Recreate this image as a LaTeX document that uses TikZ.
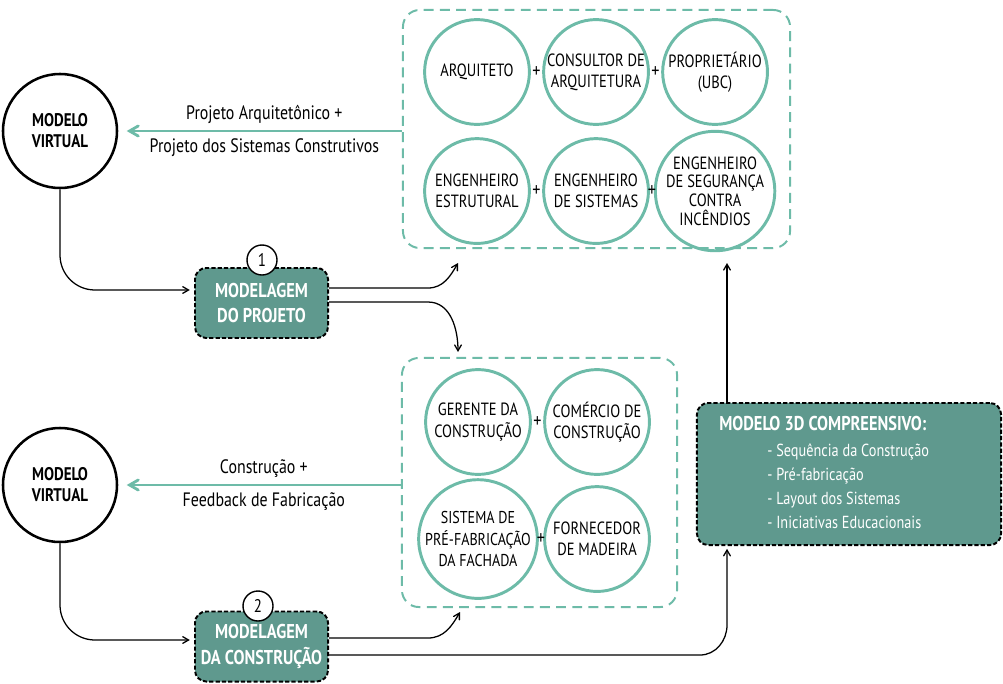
\documentclass[tikz,border=0pt]{standalone}
\usepackage{fontspec}
\setmainfont{PT Sans}[FakeStretch=0.82]
\usetikzlibrary{arrows,positioning}

\definecolor{verde}{HTML}{6DBBA8}
\definecolor{verdeescuro}{HTML}{5F998E}

\begin{document}
\begin{tikzpicture}[x=0.025cm,y=-0.025cm,>=angle 60,line width=0.9pt,node distance=2.975cm]
  \tikzstyle{membro}=[circle,draw=verde,line width=2.1pt,minimum size=2.62cm,inner sep=0pt,align=center,font=\fontsize{12.6}{15}\selectfont]
  \tikzstyle{modelo}=[circle,draw=black,line width=1.8pt,minimum size=2.85cm,inner sep=0pt,align=center,font=\bfseries\fontsize{13}{15}\selectfont]
  \tikzstyle{etapa}=[rectangle,rounded corners=8pt,draw=black,dash pattern=on 3pt off 1.5pt,line width=1.4pt,fill=verdeescuro,text=white,align=center,minimum width=3.325cm,minimum height=1.75cm,font=\bfseries\fontsize{14.2}{18}\selectfont]
  \tikzstyle{numero}=[circle,draw=black,fill=white,line width=1pt,minimum size=0.75cm,inner sep=0pt,font=\fontsize{13}{13}\selectfont]
  \tikzstyle{grupo}=[rectangle,rounded corners=12pt,draw=verde,line width=1.4pt,dash pattern=on 7pt off 4.5pt]
  \tikzstyle{retorno}=[->,draw=verde,line width=2pt]
  \tikzstyle{legenda}=[font=\fontsize{13.8}{16}\selectfont]
  \tikzstyle{mais}=[font=\fontsize{14}{14}\selectfont]

  \useasboundingbox (0,0) rectangle (1003,683);

  % equipe de projeto
  \node[grupo,minimum width=9.675cm,minimum height=5.95cm] (equipe1) at (596.5,129) {};
  \node[membro] (arq)        at (477,72)          {ARQUITETO};
  \node[membro] (consultor)  [right of=arq]       {CONSULTOR DE\\ARQUITETURA};
  \node[membro] (dono)       [right of=consultor] {PROPRIETÁRIO\\(UBC)};
  \node[membro] (estrutural) [below of=arq]       {ENGENHEIRO\\ESTRUTURAL};
  \node[membro] (sistemas)   [right of=estrutural] {ENGENHEIRO\\DE SISTEMAS};
  \node[membro,font=\fontsize{12.6}{13.2}\selectfont] (incendio) [right of=sistemas] {ENGENHEIRO\\DE SEGURANÇA\\CONTRA\\INCÊNDIOS};
  \path (arq) -- node[mais] {+} (consultor)
        (consultor) -- node[mais] {+} (dono)
        (estrutural) -- node[mais] {+} (sistemas)
        (sistemas) -- node[mais] {+} (incendio);

  % equipe de construcao
  \node[grupo,minimum width=6.875cm,minimum height=6.225cm] (equipe2) at (539.5,482.5) {};
  \node[membro] (gerente)    at (478,422)         {GERENTE DA\\CONSTRUÇÃO};
  \node[membro] (comercio)   [right of=gerente]   {COMÉRCIO DE\\CONSTRUÇÃO};
  \node[membro,font=\fontsize{12.2}{15}\selectfont] (fachada) [below of=gerente, node distance=2.925cm] {SISTEMA DE\\PRÉ-FABRICAÇÃO\\DA FACHADA};
  \node[membro] (madeira)    [right of=fachada]   {FORNECEDOR\\DE MADEIRA};
  \path (gerente) -- node[mais] {+} (comercio)
        (fachada) -- node[mais] {+} (madeira);

  % modelos virtuais e etapas
  \node[modelo] (mv1) at (60,131) {MODELO\\VIRTUAL};
  \node[modelo] (mv2) at (60,485) {MODELO\\VIRTUAL};
  \node[etapa] (projeto)    at (261.5,303)   {MODELAGEM\\DO PROJETO};
  \node[etapa] (construcao) at (261.5,646.5) {MODELAGEM\\DA CONSTRUÇÃO};
  \node[numero] (n1) at (262,260) {1};
  \node[numero] (n2) at (258,606) {2};

  % modelo 3D
  \node[etapa,minimum width=7.6cm,minimum height=3.55cm] (modelo3d) at (849,474) {};
  \node[anchor=west,text=white,font=\bfseries\fontsize{14.2}{16}\selectfont] (titulo) at (714,424) {MODELO 3D COMPREENSIVO:};
  \node[anchor=west,text=white,align=left,font=\fontsize{12.4}{17}\selectfont] (itens) at (762,486) {- Sequência da Construção\\- Pré-fabricação\\- Layout dos Sistemas\\- Iniciativas Educacionais};

  \coordinate (entrada1) at (458,263);
  \coordinate (entrada2) at (458,352);
  \coordinate (entrada3) at (460,612);
  \coordinate (base1)    at (727,263);

  % retornos
  \draw[retorno] (equipe1.west |- mv1) -- node[legenda,above=1pt] {Projeto Arquitetônico +}
    node[legenda,below=1pt] {Projeto dos Sistemas Construtivos} ([xshift=6pt]mv1.east);
  \draw[retorno] (equipe2.west |- mv2) -- node[legenda,above=1pt] {Construção +}
    node[legenda,below=1pt] {Feedback de Fabricação} ([xshift=6pt]mv2.east);

  % fluxo
  \draw[->,shorten >=3pt] (mv1.south) -- (60,255) to[out=-90,in=180] (95,290) -- (projeto.west |- 0,290);
  \draw[->,shorten >=3pt] (mv2.south) -- (60,605) to[out=-90,in=180] (95,640) -- (construcao.west |- 0,640);
  \draw[->] (projeto.east |- 0,288) -- (428,288) to[out=0,in=-120] (entrada1);
  \draw[->] (projeto.east |- 0,302) -- (428,302) to[out=0,in=90] (entrada2);
  \draw[->] (construcao.east |- 0,638) -- (428,638) to[out=0,in=-120] (entrada3);
  \draw[->,shorten >=2pt] (construcao.east |- 0,655) -- (700,655) to[out=0,in=-90] (727,625) -- (modelo3d.south -| base1);
  \draw[->] (modelo3d.north -| base1) -- (base1);
\end{tikzpicture}
\end{document}
